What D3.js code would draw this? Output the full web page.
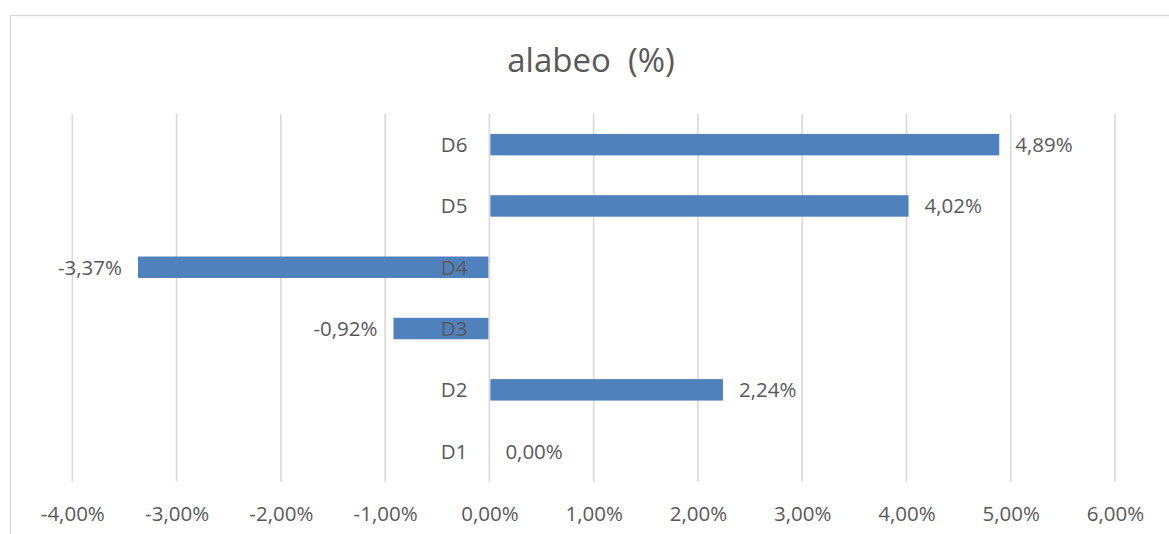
<!DOCTYPE html>
<html>
<head>
<meta charset="utf-8">
<script src="https://cdn.jsdelivr.net/npm/d3@7"></script>
<style>
  html, body { margin: 0; padding: 0; background: #fff; }
  svg { display: block; }
  text { font-family: "Open Sans", "Noto Sans", sans-serif; fill: #595959; }
</style>
</head>
<body>
<svg id="chart" width="1169" height="534"></svg>
<script>
// Warping per sample, in percent
const categories = ["D1", "D2", "D3", "D4", "D5", "D6"];
const values = [0.00, 2.24, -0.92, -3.37, 4.02, 4.89];
const tickValues = [-4, -3, -2, -1, 0, 1, 2, 3, 4, 5, 6];
const title = "alabeo  (%)";

const fmt = v => v.toFixed(2).replace(".", ",") + "%";

const svg = d3.select("#chart");
const W = 1169, H = 534;
const fontSize = "20.5px";

// chart frame
svg.append("rect")
  .attr("x", 10.5).attr("y", 15.5)
  .attr("width", W + 20).attr("height", H + 20)
  .attr("fill", "#fff")
  .attr("stroke", "#d9d9d9").attr("stroke-width", 1.3);

const plot = { left: 72.3, right: 1115, top: 114, bottom: 481.8 };

const x = d3.scaleLinear().domain([-4, 6]).range([plot.left, plot.right]);
const y = d3.scaleBand()
  .domain(categories.slice().reverse())
  .range([plot.top, plot.bottom])
  .paddingInner(0.65).paddingOuter(0.325);

// title
svg.append("text")
  .attr("x", 591).attr("y", 72)
  .attr("text-anchor", "middle")
  .style("font-size", "33px")
  .style("white-space", "pre")
  .text(title);

// vertical gridlines
svg.append("g")
  .selectAll("line")
  .data(tickValues)
  .join("line")
  .attr("x1", d => x(d)).attr("x2", d => x(d))
  .attr("y1", plot.top).attr("y2", plot.bottom)
  .attr("stroke", "#d9d9d9").attr("stroke-width", 1.6);

// bottom tick labels via axis
const axis = d3.axisBottom(x).tickValues(tickValues).tickFormat(fmt).tickSize(0).tickPadding(0);
const ax = svg.append("g")
  .attr("transform", `translate(0, ${plot.bottom})`)
  .call(axis);
ax.select(".domain").remove();
ax.selectAll("text")
  .attr("y", 39).attr("dy", null)
  .style("font-size", fontSize)
  .style("font-family", "\"Open Sans\", sans-serif")
  .attr("fill", "#595959");

// bars
svg.append("g")
  .selectAll("rect")
  .data(categories.map((c, i) => ({ c, v: values[i] })))
  .join("rect")
  .attr("x", d => Math.min(x(0), x(d.v)) + (d.v >= 0 ? 1 : 0))
  .attr("width", d => Math.max(0, Math.abs(x(d.v) - x(0)) - 1))
  .attr("y", d => y(d.c))
  .attr("height", y.bandwidth())
  .attr("fill", "#4f81bd");

// category labels
svg.append("g")
  .selectAll("text")
  .data(categories)
  .join("text")
  .attr("x", x(0) - 22)
  .attr("y", d => y(d) + y.bandwidth() / 2)
  .attr("dy", "0.36em")
  .attr("text-anchor", "end")
  .style("font-size", fontSize)
  .text(d => d);

// value labels
svg.append("g")
  .selectAll("text")
  .data(categories.map((c, i) => ({ c, v: values[i] })))
  .join("text")
  .attr("x", d => d.v >= 0 ? x(d.v) + 16 : x(d.v) - 16)
  .attr("y", d => y(d.c) + y.bandwidth() / 2)
  .attr("dy", "0.36em")
  .attr("text-anchor", d => d.v >= 0 ? "start" : "end")
  .style("font-size", fontSize)
  .text(d => fmt(d.v));
</script>
</body>
</html>
